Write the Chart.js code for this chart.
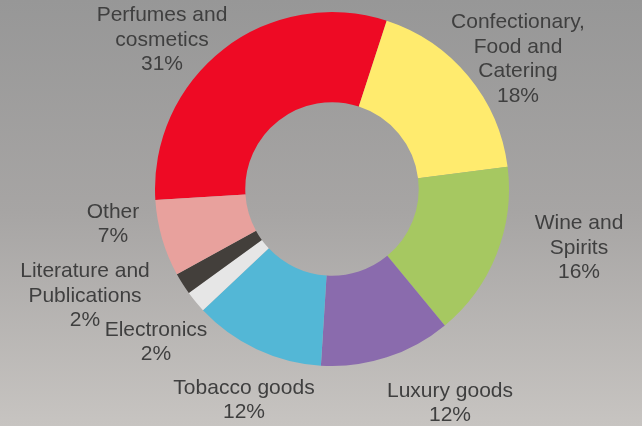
<!DOCTYPE html>
<html>
<head>
<meta charset="utf-8">
<script src="https://cdn.jsdelivr.net/npm/chart.js@4/dist/chart.umd.min.js"></script>
<style>
  html, body { margin: 0; padding: 0; }
  body {
    width: 642px; height: 426px; overflow: hidden;
    background: linear-gradient(to bottom, #979797 0%, #a7a5a4 50%, #c7c4c1 100%);
  }
  #wrap { position: relative; width: 642px; height: 426px; }
</style>
</head>
<body>
<div id="wrap"><canvas id="c" width="642" height="426"></canvas></div>
<script>
// ---- data ----
const categories = [
  ["Perfumes and", "cosmetics"],
  ["Confectionary,", "Food and", "Catering"],
  ["Wine and", "Spirits"],
  ["Luxury goods"],
  ["Tobacco goods"],
  ["Electronics"],
  ["Literature and", "Publications"],
  ["Other"]
];
const shares = [31, 18, 16, 12, 12, 2, 2, 7];
const sliceColors = ["#EE0A24", "#FFEB6E", "#A6C861", "#8A6BAD", "#53B7D6", "#E6E6E6", "#433F3B", "#E8A19D"];

// label placement: offset of the label block centre from the doughnut centre (layout only)
const labelOffsets = [
  [-170, -149], [186, -130], [247, 59], [118, 214],
  [-88, 211], [-176, 153], [-247, 107], [-219, 35]
];

const labelPlugin = {
  id: 'sliceLabels',
  afterDatasetsDraw(chart) {
    const ctx = chart.ctx;
    const meta = chart.getDatasetMeta(0);
    const total = shares.reduce((a, b) => a + b, 0);
    ctx.save();
    ctx.font = '21px "Liberation Sans", Arial, sans-serif';
    ctx.fillStyle = '#3f3f3f';
    ctx.textAlign = 'center';
    ctx.textBaseline = 'middle';
    const lh = 24.5;
    meta.data.forEach((arc, i) => {
      const lines = categories[i].concat([Math.round(shares[i] / total * 100) + '%']);
      const cx = arc.x + labelOffsets[i][0];
      const cy = arc.y + labelOffsets[i][1];
      const top = cy - (lines.length - 1) * lh / 2;
      lines.forEach((t, k) => ctx.fillText(t, cx, top + k * lh));
    });
    ctx.restore();
  }
};

new Chart(document.getElementById('c'), {
  type: 'doughnut',
  data: {
    labels: categories.map(c => c.join(' ')),
    datasets: [{
      data: shares,
      backgroundColor: sliceColors,
      borderWidth: 0,
      hoverOffset: 0
    }]
  },
  options: {
    responsive: false,
    animation: false,
    rotation: -93.6,
    cutout: '49%',
    layout: { padding: { left: 155, right: 133, top: 12, bottom: 60 } },
    plugins: { legend: { display: false }, tooltip: { enabled: false } }
  },
  plugins: [labelPlugin]
});
</script>
</body>
</html>
